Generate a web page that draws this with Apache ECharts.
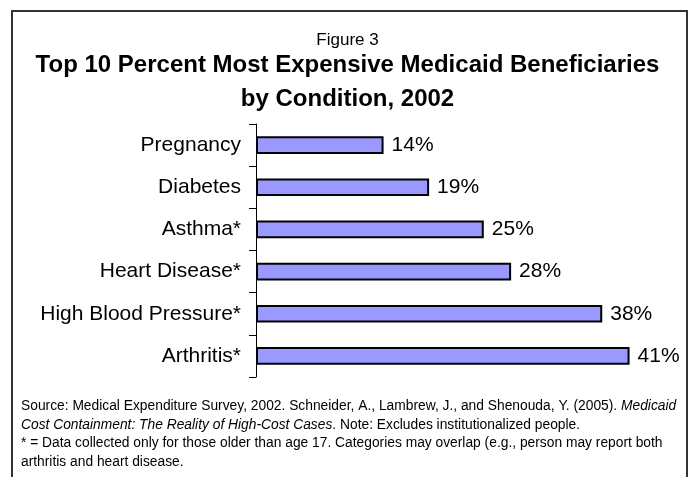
<!DOCTYPE html>
<html><head><meta charset="utf-8">
<script src="https://cdn.jsdelivr.net/npm/echarts@6/dist/echarts.min.js"></script>
<style>html,body{margin:0;padding:0;background:#fff}#c{width:695px;height:477px}</style>
</head><body><div id="c"></div>
<script>
var categories = ['Pregnancy','Diabetes','Asthma*','Heart Disease*','High Blood Pressure*','Arthritis*'];
var values = [14,19,25,28,38,41];
var figureLabel = 'Figure 3';
var titleText = 'Top 10 Percent Most Expensive Medicaid Beneficiaries\nby Condition, 2002';
var noteLines = [
  '{n|Source: Medical Expenditure Survey, 2002. Schneider, A., Lambrew, J., and Shenouda, Y. (2005). }{i|Medicaid}',
  '{i|Cost Containment: The Reality of High-Cost Cases}{n|. Note: Excludes institutionalized people.}',
  '{n|* = Data collected only for those older than age 17. Categories may overlap (e.g., person may report both}',
  '{n|arthritis and heart disease.}'
];
var F = 'Liberation Sans, Arial, sans-serif';
var NS = 13.8;
var chart = echarts.init(document.getElementById('c'), null, {renderer:'canvas'});
chart.setOption({
  animation:false,
  backgroundColor:'#fff',
  graphic:[{type:'rect',shape:{x:12,y:11,width:675,height:480},style:{fill:'none',stroke:'#333',lineWidth:2},silent:true}],
  title:[
    {text:figureLabel,left:'center',top:32,padding:0,textStyle:{fontFamily:F,fontSize:17,fontWeight:'normal',color:'#000'}},
    {text:titleText,left:'center',top:48,padding:0,textStyle:{fontFamily:F,fontSize:24,fontWeight:'bold',color:'#000',lineHeight:34}},
    {text:noteLines.join('\n'),left:21,top:397,padding:0,textStyle:{fontFamily:F,fontSize:NS,fontWeight:'normal',color:'#000',lineHeight:18.5,
      rich:{n:{fontFamily:F,fontSize:NS,fontWeight:'normal',color:'#000',lineHeight:18.5},i:{fontFamily:F,fontSize:NS,fontWeight:'normal',fontStyle:'italic',color:'#000',lineHeight:18.5}}}}
  ],
  grid:{left:256,top:124,width:410,height:253,containLabel:false},
  xAxis:{type:'value',min:0,max:45,show:false},
  yAxis:{type:'category',data:categories,inverse:true,
    axisLine:{show:true,lineStyle:{color:'#000',width:1}},
    axisTick:{show:true,alignWithLabel:false,length:7,lineStyle:{color:'#000'}},
    axisLabel:{fontFamily:F,fontSize:21,color:'#000',margin:15},
    splitLine:{show:false}},
  series:[{type:'bar',data:values,barWidth:'42%',
    itemStyle:{color:'#9999FF',borderColor:'#000',borderWidth:2},
    label:{show:true,position:'right',distance:8,formatter:'{c}%',fontFamily:F,fontSize:21,color:'#000'}}]
});
</script></body></html>
